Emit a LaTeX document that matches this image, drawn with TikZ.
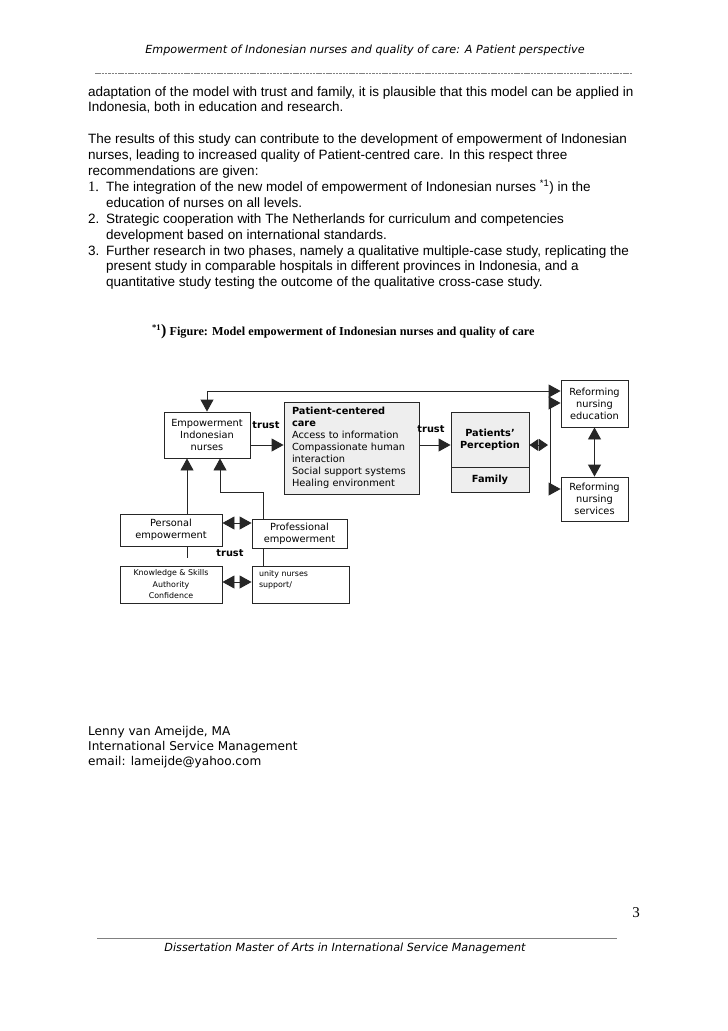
\documentclass[tikz,border=0pt]{standalone}
\usepackage{fontspec}
\setmainfont{Liberation Sans}
\newfontfamily\verdanafont{DejaVu Sans}
\newfontfamily\timesfont{Liberation Serif}
\usepackage{tikz}
\usetikzlibrary{arrows.meta}

\tikzset{
    body/.style={anchor=base west, inner sep=0pt, font=\fontsize{13.5}{15.9}\selectfont},
    num/.style={anchor=base west, inner sep=0pt, font=\timesfont\fontsize{14.5}{15.9}\selectfont},
    author/.style={anchor=base west, inner sep=0pt, font=\verdanafont\fontsize{12.1}{15}\selectfont},
    box/.style={draw=black!85, line width=0.9pt, inner sep=0pt, align=center, font=\verdanafont\fontsize{9.8}{12}\selectfont},
    shaded/.style={box, fill=gray!13},
    smallbox/.style={box, font=\verdanafont\fontsize{7.9}{11.5}\selectfont},
    trust/.style={inner sep=0pt, font=\verdanafont\bfseries\fontsize{9.8}{12}\selectfont},
    plain/.style={draw=black!85, line width=0.9pt},
    arr/.style={plain, -{Triangle[length=12pt,width=13pt]}},
    dblarr/.style={plain, {Triangle[length=12pt,width=13pt]}-{Triangle[length=12pt,width=13pt]}},
    smalldbl/.style={plain, {Triangle[length=9pt,width=12pt]}-{Triangle[length=9pt,width=12pt]}},
}

\begin{document}
\begin{tikzpicture}[x=1pt,y=-1pt]
    \fill[white] (0,0) rectangle (728,1031);
    \useasboundingbox (0,0) rectangle (728,1031);

    % page head
    \node[anchor=base, inner sep=0pt] (head) at (365,53) {\verdanafont\itshape\fontsize{11.2}{12}\selectfont Empowerment of Indonesian nurses and quality of care: A Patient perspective};
    \draw[gray, line width=0.7pt, dash pattern=on 2.5pt off 0.8pt] (95,73) -- (632,73);

    % running text
    \node[body] (l1) at (88,96) {adaptation of the model with trust and family, it is plausible that this model can be applied in};
    \node[body] (l2) at (88,111.9) {Indonesia, both in education and research.};
    \node[body] (l3) at (88,143.7) {The results of this study can contribute to the development of empowerment of Indonesian};
    \node[body] (l4) at (88,159.6) {nurses, leading to increased quality of Patient-centred care. In this respect three};
    \node[body] (l5) at (88,175.5) {recommendations are given:};
    \node[num] (n1) at (88,191.4) {1.};
    \node[body] (l6) at (106,191.4) {The integration of the new model of empowerment of Indonesian nurses \textsuperscript{*1}) in the};
    \node[body] (l7) at (106,207.3) {education of nurses on all levels.};
    \node[body] (n2) at (88,223.2) {2.};
    \node[body] (l8) at (106,223.2) {Strategic cooperation with The Netherlands for curriculum and competencies};
    \node[body] (l9) at (106,239.1) {development based on international standards.};
    \node[body] (n3) at (88,255) {3.};
    \node[body] (l10) at (106,255) {Further research in two phases, namely a qualitative multiple-case study, replicating the};
    \node[body] (l11) at (106,270.9) {present study in comparable hospitals in different provinces in Indonesia, and a};
    \node[body] (l12) at (106,286.8) {quantitative study testing the outcome of the qualitative cross-case study.};

    % caption
    \node[anchor=base west, inner sep=0pt] (cap) at (152,335) {\timesfont\bfseries\fontsize{12.2}{14}\selectfont\textsuperscript{*1}{\fontsize{16}{16}\selectfont)} Figure: Model empowerment of Indonesian nurses and quality of care};

    % model
    \node[box, minimum width=86, minimum height=46] (emp) at (207,435) {Empowerment\\Indonesian\\nurses};
    \node[shaded, minimum width=135, minimum height=92, text width=119, align=left] (pcc) at (351.5,448) {\textbf{Patient-centered}\\\textbf{care}\\Access to information\\Compassionate human\\interaction\\Social support systems\\Healing environment};
    \node[shaded, minimum width=78, minimum height=55, font=\verdanafont\bfseries\fontsize{9.8}{12}\selectfont] (pp) at (490,439.5) {Patients’\\Perception};
    \node[shaded, minimum width=78, minimum height=25, font=\verdanafont\bfseries\fontsize{9.8}{12}\selectfont] (fam) at (490,479.5) {Family};
    \node[box, minimum width=67, minimum height=47] (redu) at (594.5,403.5) {Reforming\\nursing\\education};
    \node[box, minimum width=67, minimum height=44] (rserv) at (594.5,499) {Reforming\\nursing\\services};
    \node[box, minimum width=102, minimum height=32] (pers) at (171,530) {Personal\\empowerment};
    \node[box, minimum width=95, minimum height=29] (prof) at (299.5,533.5) {Professional\\empowerment};
    \node[smallbox, minimum width=102, minimum height=37] (know) at (171,584.5) {Knowledge \& Skills\\Authority\\Confidence};
    \node[smallbox, minimum height=37, text width=83, inner xsep=7pt, align=left] (unity) at (300.5,584.5) {unity nurses\\support/\\~};

    \node[trust] (t1) at (266,425) {trust};
    \node[trust] (t2) at (431,429) {trust};
    \node[trust] (t3) at (230,553) {trust};

    \coordinate (flow) at (0,445);
    \coordinate (loop) at (207,391);
    \coordinate (rail) at (550,403);
    \coordinate (railend) at (550,489);
    \coordinate (bend) at (220,492);

    \draw[arr] (emp.east |- flow) -- (pcc.west |- flow);
    \draw[arr] (pcc.east |- flow) -- (pp.west |- flow);
    \draw[smalldbl] (pp.east |- flow) -- ([xshift=-2]rail |- flow);
    \draw[arr] (railend) -- (rail) -- (redu.west |- rail);
    \draw[arr] (railend) -- (rserv.west |- railend);
    \draw[dblarr] (redu.south) -- (rserv.north);
    \draw[dblarr] (emp.north) -- (emp.north |- loop) -- (redu.west |- loop);
    \draw[arr] ([xshift=16]pers.north) -- ([xshift=16]pers.north |- emp.south);
    \draw[arr] ([xshift=-36.5]prof.north) |- (bend) -- (bend |- emp.south);
    \draw[dblarr] ([yshift=7]pers.east) -- ([yshift=7]pers.east -| prof.west);
    \draw[plain] ([xshift=16]pers.south) -- ++(0,12);
    \draw[plain] ([xshift=-36.5]prof.south) -- ([xshift=-36.5]prof.south |- unity.north);
    \draw[dblarr] ([yshift=2.5]know.east) -- ([yshift=2.5]know.east -| unity.west);

    % signature
    \node[author] (a1) at (88,735) {Lenny van Ameijde, MA};
    \node[author] (a2) at (88,750) {International Service Management};
    \node[author] (a3) at (88,765) {email: lameijde@yahoo.com};

    % page foot
    \node[anchor=base, inner sep=0pt] (pg) at (636,917) {\timesfont\fontsize{15}{15}\selectfont 3};
    \draw[gray, line width=0.6pt] (97,938) -- (617,938);
    \node[anchor=base, inner sep=0pt] (foot) at (345,951) {\verdanafont\itshape\fontsize{11.2}{12}\selectfont Dissertation Master of Arts in International Service Management};
\end{tikzpicture}
\end{document}
